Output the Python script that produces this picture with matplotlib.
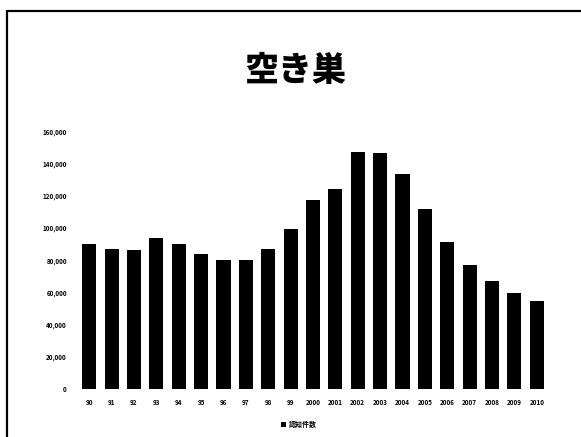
import matplotlib
matplotlib.use("Agg")
import matplotlib.pyplot as plt
from matplotlib.patches import Rectangle
from matplotlib.ticker import FuncFormatter

plt.rcParams['font.family'] = ['Noto Sans CJK JP', 'DejaVu Sans']

title = "空き巣"
series_name = "認知件数"
years = ["90", "91", "92", "93", "94", "95", "96", "97", "98", "99",
         "2000", "2001", "2002", "2003", "2004", "2005", "2006", "2007",
         "2008", "2009", "2010"]
values = [89800, 86800, 86300, 93700, 90400, 83800, 80100, 79900, 87200,
          99200, 117600, 124300, 147500, 146800, 133300, 111600, 91600,
          76900, 67200, 59400, 54500]
yticks = [0, 20000, 40000, 60000, 80000, 100000, 120000, 140000, 160000]

fig = plt.figure(figsize=(5.81, 4.37), dpi=100)
fig.patch.set_facecolor("white")

# outer frame
fig.patches.append(Rectangle((7/581, -0.1), 1.2, 1 - 11/437 + 0.1,
                             transform=fig.transFigure, fill=False,
                             edgecolor="black", linewidth=1.6))

fig.text(295/581, 1 - 71/437, title, ha="center", va="center",
         fontsize=24.5, fontweight="heavy")

ax = fig.add_axes([78/581, 48/437, 470/581, 257.5/437])
x = list(range(len(years)))
bars = ax.bar(x, values, width=0.63, color="black", label=series_name)
ax.set_xlim(-0.5, len(years) - 0.5)
ax.set_ylim(0, 160000)
ax.set_yticks(yticks)
ax.yaxis.set_major_formatter(FuncFormatter(lambda v, p: f"{int(v):,}"))
ax.set_xticks(x)
ax.set_xticklabels(years)
for s in ax.spines.values():
    s.set_visible(False)
ax.tick_params(axis="both", length=0, labelsize=4.5)
ax.tick_params(axis="y", pad=8)
ax.tick_params(axis="x", pad=7)
for lbl in ax.get_xticklabels() + ax.get_yticklabels():
    lbl.set_fontweight("bold")

leg = ax.legend(handles=[bars], labels=[series_name], loc="upper center",
                bbox_to_anchor=(0.47, -0.1), frameon=False,
                prop={"size": 5, "weight": "bold"},
                handlelength=0.6, handleheight=0.6, handletextpad=0.4)

fig.savefig("out.png", dpi=100)
